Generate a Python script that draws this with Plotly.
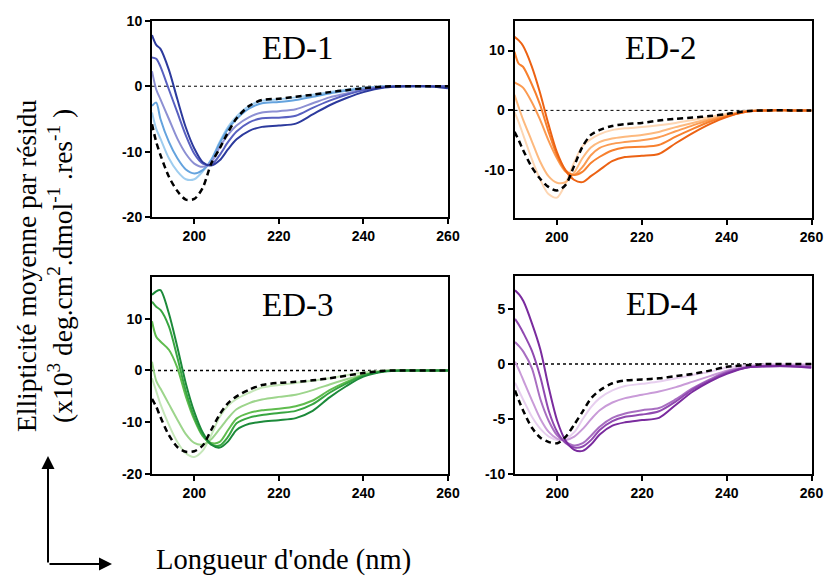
import plotly.graph_objects as go

# Wavelength grid (nm)
wavelength = [190, 191, 192, 194, 196, 198, 200, 202, 204, 206, 208, 210, 213, 216,
              220, 224, 228, 232, 236, 240, 245, 250, 255, 260]

# ED-1 (blues)
ed1_ref = [-5.8, -8.5, -10.5, -13.8, -16, -17.3, -17.2, -15.5, -11.8, -9.5, -7, -4.9, -3, -2.1, -1.9, -1.6, -1.3, -0.9, -0.6, -0.3, -0.05, 0, 0, 0]
ed1_c1 = [-4, -6.5, -8, -11, -13, -14.2, -14.2, -13, -11.2, -8.5, -6.2, -4.6, -3, -2.2, -2.0, -1.7, -1.3, -0.9, -0.5, -0.25, 0, 0, 0, 0]
ed1_c2 = [-3, -2.5, -5, -8.5, -11, -12.7, -13.3, -12.8, -11.3, -8.7, -6.5, -5, -3.4, -2.6, -2.4, -2.1, -1.6, -1.1, -0.7, -0.35, -0.05, 0, 0, 0]
ed1_c3 = [2.3, -0.5, -2, -5, -8, -10.3, -11.8, -12.3, -11.6, -9.3, -7.4, -6, -4.7, -4, -3.8, -3.5, -2.6, -1.7, -1.1, -0.5, -0.1, 0, 0, 0]
ed1_c4 = [4.4, 4.2, 3, -0.5, -4, -7.5, -10.3, -11.8, -12, -10.5, -8.5, -6.9, -5.5, -4.9, -4.8, -4.5, -3.3, -2.2, -1.3, -0.6, -0.1, 0, 0, 0]
ed1_c5 = [7.8, 6.3, 5.7, 2.5, -2, -6.3, -9.5, -11.6, -12.1, -11.3, -9.6, -8.1, -6.8, -6.2, -6, -5.7, -4.3, -2.9, -1.8, -0.9, -0.2, 0, 0, -0.3]

# ED-2 (oranges)
ed2_ref = [-3.6, -5, -6.6, -9.4, -11.4, -12.8, -13.4, -12.5, -9.4, -6.1, -4.1, -3.3, -2.6, -2.3, -2.1, -1.7, -1.4, -1.2, -0.95, -0.6, -0.1, 0, 0, 0]
ed2_c1 = [-0.3, -2, -4, -8, -11.5, -14, -14.6, -12.3, -8.8, -6, -4.8, -4, -3.3, -3.0, -2.8, -2.5, -2.1, -1.6, -1.1, -0.6, -0.1, 0, 0, 0]
ed2_c2 = [2.6, 0.5, -1.5, -5, -8.5, -11, -12.1, -12, -10.5, -8, -6.2, -5.3, -4.7, -4.4, -4.1, -3.6, -2.8, -2.1, -1.4, -0.8, -0.1, 0, 0, 0]
ed2_c3 = [4.7, 4.3, 3.8, 1.5, -1.5, -5, -8, -10.2, -10.8, -9.5, -7.5, -6.3, -5.6, -5.3, -5, -4.5, -3.5, -2.5, -1.6, -0.9, -0.1, 0, 0, 0]
ed2_c4 = [9.8, 7.8, 7.3, 4.5, 1, -3.5, -7.5, -10, -10.8, -10.3, -8.8, -7.8, -6.7, -6.2, -6.1, -5.8, -4.4, -3.1, -1.9, -1, -0.15, 0, 0, 0]
ed2_c5 = [12.3, 11.7, 10.8, 7.5, 3, -2.3, -7, -10, -11.6, -12, -11, -10, -8.5, -7.8, -7.6, -7.3, -5.5, -3.8, -2.3, -1.1, -0.2, 0, 0, 0]

# ED-3 (greens)
ed3_ref = [-5.5, -7, -9, -12.5, -14.8, -15.7, -15.6, -14.5, -11.5, -8.5, -6.3, -5, -3.7, -2.8, -2.4, -2.2, -1.9, -1.5, -1.0, -0.5, -0.05, 0, 0, 0]
ed3_c1 = [-1.5, -4, -6.5, -10.5, -13.8, -16, -16.7, -15.5, -12.5, -9, -6.8, -5.5, -4.3, -3.3, -2.8, -2.4, -2, -1.5, -0.9, -0.4, 0, 0, 0, 0]
ed3_c2 = [1.7, -2, -3.5, -6.5, -9.5, -12.3, -14, -14.3, -13.3, -11.3, -9.2, -7.5, -6.3, -5.6, -5.1, -4.7, -3.8, -2.7, -1.7, -0.8, -0.1, 0, 0, 0]
ed3_c3 = [9.5, 6.5, 5.6, 4, 0.5, -5, -9.5, -12.7, -14.0, -13.8, -11.5, -9.3, -8.2, -7.7, -7.4, -6.9, -5.8, -3.8, -2.2, -0.9, -0.1, 0, 0, 0]
ed3_c4 = [13.3, 12.3, 11.7, 8.5, 2.5, -4, -9, -12.5, -14.3, -14.5, -12.8, -10.2, -9.1, -8.6, -8.2, -7.8, -6.5, -4.3, -2.5, -1.0, -0.15, 0, 0, 0]
ed3_c5 = [14.6, 15.3, 15.5, 11, 4.5, -2.5, -8, -12, -14.3, -14.9, -13.7, -11.5, -10.3, -9.9, -9.6, -9.2, -7.8, -5.2, -3, -1.2, -0.2, 0, 0, 0]

# ED-4 (purples)
ed4_ref = [-2.4, -3.4, -4.3, -5.8, -6.7, -7.1, -7.2, -6.6, -5.5, -4.3, -3.1, -2.4, -1.75, -1.5, -1.4, -1.3, -1.1, -0.9, -0.6, -0.25, -0.1, 0, 0, 0]
ed4_c1 = [-1.7, -2.5, -3.3, -4.8, -5.9, -6.6, -6.9, -6.8, -6.2, -5, -3.9, -3.1, -2.4, -2, -1.8, -1.6, -1.3, -1.0, -0.7, -0.35, -0.1, 0, 0, 0]
ed4_c2 = [0.2, -0.6, -1.5, -3.3, -5, -6.2, -6.8, -6.9, -6.6, -5.9, -5, -4.2, -3.5, -3.1, -2.8, -2.5, -2.1, -1.6, -1.1, -0.6, -0.2, -0.1, -0.1, -0.1]
ed4_c3 = [2, 1.6, 1.1, -0.4, -3.2, -5.2, -6.5, -7.1, -7.4, -7.2, -6.5, -5.7, -4.9, -4.5, -4.2, -4, -3.2, -2.2, -1.4, -0.7, -0.3, -0.2, -0.2, -0.2]
ed4_c4 = [4.1, 3.5, 2.8, 1.2, -1.2, -4.3, -6.2, -7.2, -7.6, -7.5, -6.9, -6, -5.2, -4.8, -4.6, -4.3, -3.4, -2.3, -1.5, -0.8, -0.3, -0.2, -0.2, -0.3]
ed4_c5 = [6.7, 6.3, 5.7, 3.7, 1.3, -2.2, -5.2, -7, -7.8, -7.9, -7.3, -6.4, -5.6, -5.3, -5.1, -4.9, -3.7, -2.5, -1.6, -0.9, -0.3, -0.2, -0.2, -0.35]

panel_titles = ["ED-1", "ED-2", "ED-3", "ED-4"]
x_ticks = [200, 220, 240, 260]
y_ticks = [[-20, -10, 0, 10], [-10, 0, 10], [-20, -10, 0, 10], [-10, -5, 0, 5]]
y_ranges = [[-20, 10], [-18, 15], [-20, 18], [-10, 8]]

panels = [
    ([ed1_c1, ed1_c2, ed1_c3, ed1_c4, ed1_c5], ed1_ref,
     ["#9fcdef", "#64a3de", "#8d90d3", "#5860c0", "#2c3a9d"]),
    ([ed2_c1, ed2_c2, ed2_c3, ed2_c4, ed2_c5], ed2_ref,
     ["#fdd6b3", "#fdb97e", "#fb9b52", "#f7802e", "#ec6213"]),
    ([ed3_c1, ed3_c2, ed3_c3, ed3_c4, ed3_c5], ed3_ref,
     ["#c6e7ba", "#9dd58c", "#5fbc4e", "#38a641", "#1c8a3a"]),
    ([ed4_c1, ed4_c2, ed4_c3, ed4_c4, ed4_c5], ed4_ref,
     ["#e7cfef", "#c99bd8", "#a86ec1", "#9049b0", "#7a2b9e"]),
]

W, H = 824, 576
# plot-area pixel boxes: (left, right, top, bottom)
boxes = [(152, 448, 20.7, 217.3), (514.5, 811.5, 20.7, 218),
         (152, 448, 277.3, 474), (515, 811.5, 276, 474)]

fig = go.Figure()
tickfont = dict(family="Liberation Sans, Arial", size=14, color="black", weight="bold")

for i, ((curves, ref, colors), box) in enumerate(zip(panels, boxes)):
    n = "" if i == 0 else str(i + 1)
    xa, ya = "x" + n, "y" + n
    for vals, col in zip(curves, colors):
        fig.add_trace(go.Scatter(x=wavelength, y=vals, mode="lines", xaxis=xa, yaxis=ya,
                                 line=dict(color=col, width=2, shape="spline", smoothing=0.8),
                                 showlegend=False, hoverinfo="skip"))
    fig.add_trace(go.Scatter(x=wavelength, y=ref, mode="lines", xaxis=xa, yaxis=ya,
                             line=dict(color="black", width=2.5, dash="6px,4px",
                                       shape="spline", smoothing=0.8),
                             showlegend=False, hoverinfo="skip"))
    l, r, t, b = box
    common = dict(showline=True, linecolor="black", linewidth=2, mirror=True,
                  ticks="outside", ticklen=5, tickwidth=2, tickcolor="black",
                  showgrid=False, zeroline=False, tickfont=tickfont, automargin=False)
    fig.update_layout(**{
        "xaxis" + n: dict(domain=[l / W, r / W], range=[190, 260], tickvals=x_ticks,
                          ticktext=[str(v) for v in x_ticks], anchor=ya, **common),
        "yaxis" + n: dict(domain=[1 - b / H, 1 - t / H], range=y_ranges[i],
                          tickvals=y_ticks[i], ticktext=[str(v) for v in y_ticks[i]],
                          anchor=xa, **common),
    })
    fig.add_shape(type="line", xref=xa, yref=ya, x0=190, x1=260, y0=0, y1=0,
                  line=dict(color="black", width=1 if i < 2 else 1.6, dash="dot"), layer="below")
    fig.add_annotation(xref=xa + " domain", yref=ya + " domain", x=0.493, y=0.86,
                       text=panel_titles[i], showarrow=False, xanchor="center", yanchor="middle",
                       font=dict(family="Liberation Serif", size=33, color="black"))

serif = "Liberation Serif"
fig.add_annotation(xref="paper", yref="paper", x=44 / W, y=1 - 266 / H, textangle=-90,
                   text="Ellipticité moyenne par résidu<br>(x10<sup>3</sup> deg.cm<sup>2</sup>.dmol<sup>-1</sup> .res<sup>-1</sup> )",
                   showarrow=False, xanchor="center", yanchor="middle",
                   font=dict(family=serif, size=27.5, color="black"))
fig.add_annotation(xref="paper", yref="paper", x=283 / W, y=-0.004,
                   text="Longueur d'onde (nm)", showarrow=False, xanchor="center", yanchor="bottom",
                   font=dict(family=serif, size=28.5, color="black"))
# orientation arrows
fig.add_annotation(xref="paper", yref="paper", x=48 / W, y=1 - 456 / H, ax=0, ay=108,
                   text="", showarrow=True, arrowhead=2, arrowsize=1.3, arrowwidth=2, arrowcolor="black")
fig.add_annotation(xref="paper", yref="paper", x=112 / W, y=1 - 564 / H, ax=-64, ay=0,
                   text="", showarrow=True, arrowhead=2, arrowsize=1.3, arrowwidth=2, arrowcolor="black")

fig.update_layout(width=W, height=H, margin=dict(l=0, r=0, t=0, b=0, pad=0, autoexpand=False),
                  paper_bgcolor="white", plot_bgcolor="white", showlegend=False)
fig.write_html("out.html", config={"displayModeBar": False},
               post_script="document.body.style.margin='0';document.body.style.overflow='hidden';")
